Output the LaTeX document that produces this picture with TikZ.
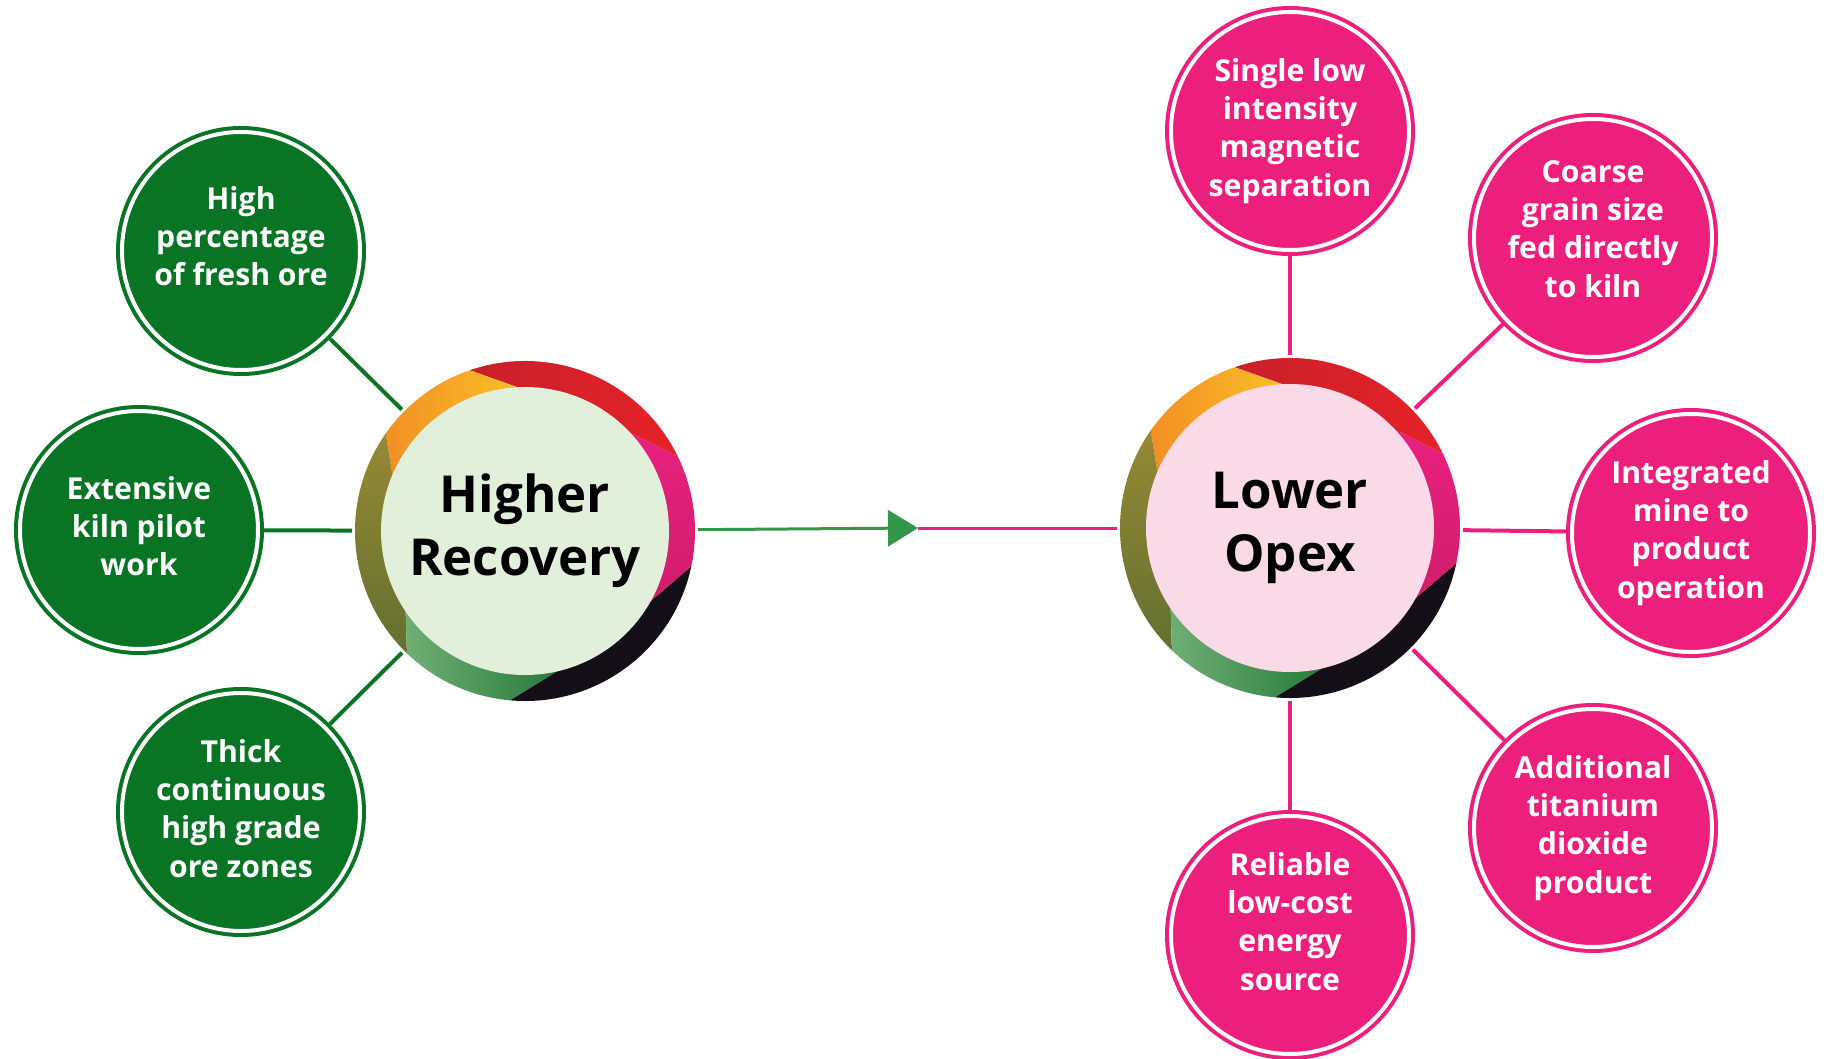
\documentclass[tikz,border=0pt]{standalone}
\usepackage{fontspec}
\setmainfont{Open Sans}
\usetikzlibrary{arrows.meta}
\definecolor{leafgreen}{RGB}{8,116,36}
\definecolor{leafpink}{RGB}{236,32,124}
\definecolor{arrowgreen}{RGB}{52,150,75}
\definecolor{hubgreen}{RGB}{226,239,218}
\definecolor{hubpink}{RGB}{250,218,231}
\definecolor{ringredA}{RGB}{200,32,42}
\definecolor{ringredB}{RGB}{229,34,40}
\definecolor{ringorangeA}{RGB}{242,143,35}
\definecolor{ringorangeB}{RGB}{251,193,41}
\definecolor{ringoliveA}{RGB}{150,137,52}
\definecolor{ringoliveB}{RGB}{98,112,48}
\definecolor{ringgreenA}{RGB}{112,174,116}
\definecolor{ringgreenB}{RGB}{40,124,60}
\definecolor{ringblack}{RGB}{20,14,22}
\definecolor{ringmagA}{RGB}{232,32,126}
\definecolor{ringmagB}{RGB}{208,30,108}
\newcommand{\leaftext}[2][0cm]{\raisebox{#1}[\height][\depth]{\begin{tabular}{@{}c@{}}#2\end{tabular}}}

\begin{document}
\begin{tikzpicture}[
    hub/.style={circle,minimum size=2.88cm,inner sep=0pt,outer sep=0.29cm,align=center,
        font=\fontsize{14.5}{18}\selectfont\bfseries},
    leaf/.style={circle,minimum size=2.38cm,inner sep=0pt,line width=0.04cm,double=white,
        double distance=0.04cm,outer sep=0.06cm,text=white,
        font=\fontsize{8.6}{10.9}\selectfont\bfseries},
    gleaf/.style={leaf,fill=leafgreen,draw=leafgreen},
    pleaf/.style={leaf,fill=leafpink,draw=leafpink},
    glink/.style={draw=leafgreen,line width=0.04cm},
    plink/.style={draw=leafpink,line width=0.04cm},
    segred/.style={left color=ringredA,right color=ringredB},
    segorange/.style={left color=ringorangeA,right color=ringorangeB},
    segolive/.style={top color=ringoliveA,bottom color=ringoliveB},
    seggreen/.style={left color=ringgreenA,right color=ringgreenB},
    segblack/.style={left color=ringblack,right color=ringblack},
    segmag/.style={top color=ringmagA,bottom color=ringmagB}]
    \useasboundingbox (0,0) rectangle (18.26,10.58);

    \coordinate (hrc) at (5.25,5.27);
    \coordinate (loc) at (12.90,5.30);
    \foreach \c in {hrc,loc} {
        \begin{scope}[shift={(\c)}]
            \foreach \oa/\ia/\ob/\ib/\sty in {26/43/109/93/segred, 109/93/145/157/segorange,
                    145/157/226/214/segolive, 226/214/265/283/seggreen,
                    265/283/348/331/segblack, 348/331/386/403/segmag}
                \shade[\sty] (0,0) -- (\ia:1.44) -- (\oa:1.70)
                    arc[start angle=\oa,end angle=\ob,radius=1.70] -- (\ib:1.44) -- cycle;
        \end{scope}
    }
    \node[hub,fill=hubgreen] (hr) at (hrc) {Higher\\Recovery};
    \node[hub,fill=hubpink] (lo) at (loc) {Lower\\Opex};

    \node[gleaf] (g1) at (2.41,8.07) {\leaftext[0.11cm]{High\\percentage\\of fresh ore}};
    \node[gleaf] (g2) at (1.39,5.28) {\leaftext{Extensive\\kiln pilot\\work}};
    \node[gleaf] (g3) at (2.41,2.46) {\leaftext{Thick\\continuous\\high grade\\ore zones}};

    \node[pleaf] (p1) at (12.90,9.27) {\leaftext{Single low\\intensity\\magnetic\\separation}};
    \node[pleaf] (p2) at (15.93,8.20) {\leaftext[0.06cm]{Coarse\\grain size\\fed directly\\to kiln}};
    \node[pleaf] (p3) at (16.91,5.25) {\leaftext{Integrated\\mine to\\product\\operation}};
    \node[pleaf] (p4) at (15.93,2.30) {\leaftext{Additional\\titanium\\dioxide\\product}};
    \node[pleaf] (p5) at (12.90,1.23) {\leaftext[0.10cm]{Reliable\\low-cost\\energy\\source}};

    \draw[glink] (g1) -- (hr);
    \draw[glink] (g2) -- (hr);
    \draw[glink] (g3) -- (hr);
    \foreach \p in {p1,p2,p3,p4,p5}
        \draw[plink] (lo) -- (\p);

    \coordinate (tip) at (9.18,5.30);
    \draw[arrowgreen,line width=0.03cm,-{Triangle[length=0.3cm,width=0.36cm]}] (hr) -- (tip);
    \draw[leafpink,line width=0.03cm] (tip) -- (lo);
\end{tikzpicture}
\end{document}
